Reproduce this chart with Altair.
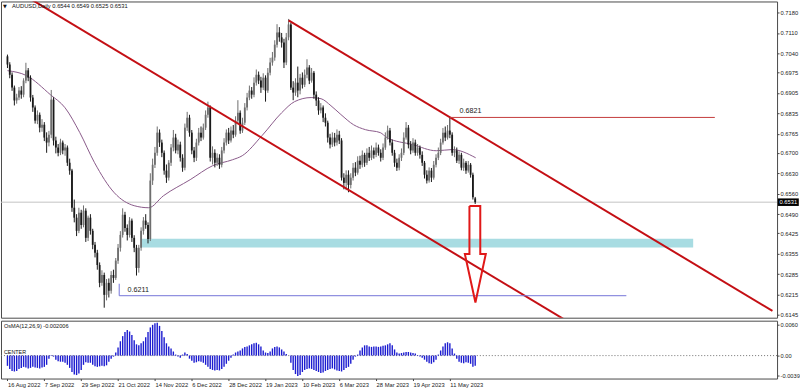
import altair as alt
import pandas as pd

# ---------------- texts ----------------
title_text = "AUDUSD,Daily  0.6544 0.6549 0.6525 0.6531"
osma_title = "OsMA(12,26,9) -0.002006"
center_text = "CENTER"
tri_text = "▼"

# ---------------- axes ----------------
date_labels = ["16 Aug 2022", "7 Sep 2022", "29 Sep 2022", "21 Oct 2022", "14 Nov 2022",
               "6 Dec 2022", "28 Dec 2022", "19 Jan 2023", "10 Feb 2023", "6 Mar 2023",
               "28 Mar 2023", "19 Apr 2023", "11 May 2023"]
date_ticks = [0, 16, 32, 48, 64, 80, 96, 112, 128, 144, 160, 176, 192]
price_ticks = [0.7180, 0.7110, 0.7040, 0.6975, 0.6905, 0.6835, 0.6765, 0.6700,
               0.6630, 0.6560, 0.6490, 0.6425, 0.6355, 0.6285, 0.6215, 0.6145]
osma_ticks = [0.00603, 0.0, -0.00390]
# the picture's right edge cuts the oscillator labels; these are the parts that show
osma_tick_text = ["0.0060", "0.00", "-0.0039"]

# ---------------- daily candles (bar index 0 = 16 Aug 2022) ----------------
closes = [
    .7002, .6967, .6923, .6879, .6889, .6913, .6899, .6947, .6982, .6957,
    .6889, .6855, .6810, .6830, .6786, .6796, .6752, .6735, .6762, .6882,
    .6742, .6718, .6700, .6735, .6708, .6718, .6666, .6639, .6512, .6478,
    .6433, .6495, .6453, .6502, .6409, .6478, .6433, .6385, .6358, .6316,
    .6255, .6282, .6214, .6255, .6228, .6282, .6272, .6331, .6375, .6419,
    .6488, .6443, .6419, .6468, .6409, .6375, .6306, .6375, .6433, .6468,
    .6453, .6405, .6605, .6659, .6700, .6769, .6735, .6700, .6639, .6615,
    .6666, .6718, .6752, .6708, .6728, .6683, .6649, .6786, .6820, .6769,
    .6708, .6683, .6735, .6769, .6752, .6786, .6830, .6855, .6683, .6700,
    .6666, .6683, .6659, .6708, .6735, .6769, .6742, .6776, .6762, .6810,
    .6837, .6776, .6803, .6855, .6889, .6913, .6899, .6940, .6967, .6947,
    .6923, .6957, .6913, .6974, .7009, .7026, .7070, .7112, .7095, .7077,
    .7009, .7095, .7139, .6923, .6906, .6940, .6913, .6957, .6933, .6967,
    .6992, .6947, .6974, .6899, .6879, .6845, .6855, .6820, .6803, .6752,
    .6728, .6752, .6735, .6762, .6742, .6615, .6597, .6625, .6590, .6615,
    .6649, .6632, .6673, .6659, .6693, .6666, .6700, .6683, .6708, .6693,
    .6718, .6700, .6683, .6718, .6752, .6776, .6735, .6700, .6666, .6649,
    .6683, .6700, .6752, .6786, .6728, .6708, .6735, .6700, .6718, .6693,
    .6666, .6625, .6605, .6639, .6615, .6659, .6683, .6700, .6735, .6769,
    .6752, .6776, .6762, .6700, .6708, .6673, .6693, .6649, .6666, .6639,
    .6659, .6625, .6548, .6531]
opens = [
    .7030, .7002, .6967, .6923, .6879, .6889, .6913, .6899, .6947, .6982,
    .6957, .6889, .6855, .6810, .6830, .6786, .6796, .6752, .6735, .6762,
    .6882, .6742, .6718, .6700, .6735, .6708, .6718, .6666, .6639, .6512,
    .6478, .6433, .6495, .6453, .6502, .6409, .6478, .6433, .6385, .6358,
    .6316, .6255, .6282, .6214, .6255, .6228, .6282, .6272, .6331, .6375,
    .6419, .6488, .6443, .6419, .6468, .6409, .6375, .6306, .6375, .6433,
    .6468, .6453, .6405, .6605, .6659, .6700, .6769, .6735, .6700, .6639,
    .6615, .6666, .6718, .6752, .6708, .6728, .6683, .6649, .6786, .6820,
    .6769, .6708, .6683, .6735, .6769, .6752, .6786, .6830, .6855, .6683,
    .6700, .6666, .6683, .6659, .6708, .6735, .6769, .6742, .6776, .6762,
    .6810, .6837, .6776, .6803, .6855, .6889, .6913, .6899, .6940, .6967,
    .6947, .6923, .6957, .6913, .6974, .7009, .7026, .7070, .7112, .7095,
    .7077, .7009, .7095, .7139, .6923, .6906, .6940, .6913, .6957, .6933,
    .6967, .6992, .6947, .6974, .6899, .6879, .6845, .6855, .6820, .6803,
    .6752, .6728, .6752, .6735, .6762, .6742, .6615, .6597, .6625, .6590,
    .6615, .6649, .6632, .6673, .6659, .6693, .6666, .6700, .6683, .6708,
    .6693, .6718, .6700, .6683, .6718, .6752, .6776, .6735, .6700, .6666,
    .6649, .6683, .6700, .6752, .6786, .6728, .6708, .6735, .6700, .6718,
    .6693, .6666, .6625, .6605, .6639, .6615, .6659, .6683, .6700, .6735,
    .6769, .6752, .6776, .6762, .6700, .6708, .6673, .6693, .6649, .6666,
    .6639, .6659, .6625, .6544]
highs = [
    .7036, .7010, .6975, .6930, .6902, .6925, .6928, .6955, .7008, .6990,
    .6965, .6898, .6862, .6845, .6838, .6815, .6805, .6770, .6775, .6915,
    .6890, .6755, .6730, .6748, .6742, .6730, .6725, .6680, .6645, .6540,
    .6490, .6512, .6505, .6520, .6510, .6485, .6490, .6440, .6395, .6368,
    .6325, .6298, .6290, .6268, .6270, .6295, .6300, .6340, .6388, .6432,
    .6510, .6498, .6455, .6480, .6475, .6418, .6385, .6385, .6445, .6480,
    .6490, .6462, .6630, .6680, .6720, .6790, .6780, .6745, .6708, .6660,
    .6675, .6730, .6778, .6765, .6745, .6738, .6695, .6800, .6840, .6830,
    .6778, .6720, .6748, .6785, .6790, .6800, .6845, .6875, .6862, .6722,
    .6712, .6698, .6695, .6720, .6750, .6780, .6785, .6790, .6795, .6825,
    .6880, .6845, .6820, .6870, .6905, .6930, .6925, .6958, .6985, .6978,
    .6960, .6972, .6965, .6990, .7025, .7045, .7085, .7140, .7130, .7110,
    .7090, .7110, .7158, .7145, .6945, .6955, .6995, .6970, .6975, .6985,
    .7020, .7000, .6990, .6980, .6910, .6890, .6870, .6862, .6835, .6810,
    .6765, .6770, .6768, .6780, .6775, .6750, .6630, .6640, .6640, .6630,
    .6665, .6668, .6688, .6690, .6708, .6700, .6715, .6720, .6725, .6718,
    .6735, .6728, .6712, .6732, .6770, .6793, .6785, .6745, .6710, .6680,
    .6695, .6715, .6770, .6805, .6795, .6740, .6750, .6745, .6730, .6725,
    .6705, .6672, .6640, .6650, .6648, .6672, .6695, .6718, .6748, .6785,
    .6790, .6795, .6821, .6770, .6722, .6718, .6705, .6700, .6680, .6672,
    .6672, .6665, .6632, .6549]
lows = [
    .6990, .6955, .6912, .6862, .6868, .6880, .6885, .6890, .6938, .6945,
    .6875, .6840, .6800, .6798, .6770, .6772, .6740, .6700, .6722, .6750,
    .6725, .6698, .6688, .6692, .6695, .6690, .6655, .6625, .6498, .6462,
    .6415, .6425, .6440, .6445, .6395, .6398, .6420, .6370, .6342, .6300,
    .6240, .6245, .6170, .6195, .6205, .6218, .6255, .6265, .6320, .6362,
    .6410, .6430, .6400, .6410, .6395, .6360, .6280, .6290, .6365, .6420,
    .6440, .6390, .6398, .6590, .6648, .6690, .6720, .6685, .6625, .6597,
    .6605, .6655, .6705, .6698, .6695, .6670, .6635, .6640, .6775, .6755,
    .6695, .6668, .6672, .6725, .6740, .6745, .6778, .6820, .6670, .6660,
    .6650, .6655, .6645, .6650, .6698, .6725, .6730, .6735, .6750, .6755,
    .6800, .6765, .6768, .6795, .6845, .6880, .6885, .6890, .6930, .6935,
    .6905, .6915, .6875, .6905, .6965, .6998, .7015, .7060, .7080, .7060,
    .6990, .7000, .7085, .6915, .6880, .6895, .6890, .6900, .6920, .6925,
    .6955, .6935, .6940, .6885, .6860, .6830, .6835, .6805, .6790, .6735,
    .6715, .6720, .6722, .6725, .6730, .6605, .6575, .6572, .6565, .6578,
    .6605, .6620, .6625, .6645, .6650, .6652, .6658, .6672, .6675, .6680,
    .6685, .6690, .6670, .6675, .6710, .6745, .6725, .6690, .6652, .6638,
    .6640, .6672, .6692, .6745, .6715, .6695, .6700, .6690, .6690, .6680,
    .6655, .6612, .6595, .6598, .6600, .6608, .6650, .6675, .6692, .6728,
    .6740, .6745, .6750, .6690, .6685, .6665, .6662, .6640, .6638, .6628,
    .6632, .6615, .6540, .6525]

# ---------------- moving average ----------------
ma_idx = [0, 8.3, 18.6, 25, 31.4, 37.8, 46.4, 55, 61.3, 67.7, 79.3, 89.1, 97.6, 101.9,
          110.5, 119, 124.6, 131.8, 136.1, 140.4, 144.7, 150.2, 155.4, 161.8, 164.7,
          175.9, 186.1, 193, 203.2]
ma_val = [.6981, .6964, .6899, .6854, .6769, .6666, .6563, .6519, .6512, .6553, .6608,
          .6656, .6676, .6690, .6759, .6837, .6875, .6889, .6885, .6861, .6831, .6796,
          .6779, .6769, .6752, .6728, .6707, .6711, .6683]

# ---------------- OsMA histogram ----------------
osma = [
    -.0020, -.0026, -.0030, -.0031, -.0030, -.0026, -.0024, -.0022, -.0023, -.0025,
    -.0024, -.0022, -.0023, -.0024, -.0025, -.0023, -.0022, -.0018, -.0006, -.0001,
    -.0002, -.0008, -.0011, -.0012, -.0012, -.0014, -.0018, -.0024, -.0032, -.0037,
    -.0038, -.0035, -.0028, -.0018, -.0013, -.0014, -.0014, -.0018, -.0021, -.0022,
    -.0021, -.0020, -.0021, -.0019, -.0012, -.0006, -.0002, .0006, .0016, .0028,
    .0038, .0046, .0050, .0047, .0040, .0030, .0022, .0020, .0024, .0028,
    .0036, .0046, .0055, .0060, .0063, .0064, .0058, .0048, .0036, .0024,
    .0018, .0014, .0008, .0002, -.0002, -.0004, .0002, .0006, .0003, -.0006,
    -.0010, -.0014, -.0013, -.0011, -.0012, -.0014, -.0018, -.0022, -.0026, -.0028,
    -.0029, -.0028, -.0029, -.0026, -.0022, -.0016, -.0010, -.0004, .0002, .0006,
    .0008, .0010, .0014, .0017, .0018, .0020, .0022, .0024, .0025, .0022,
    .0018, .0010, .0006, .0005, .0008, .0014, .0017, .0018, .0016, .0012,
    .0008, .0003, .0000, -.0014, -.0028, -.0036, -.0040, -.0038, -.0032, -.0028,
    -.0026, -.0025, -.0026, -.0028, -.0030, -.0032, -.0034, -.0033, -.0030, -.0028,
    -.0026, -.0025, -.0027, -.0029, -.0030, -.0031, -.0028, -.0024, -.0022, -.0016,
    -.0008, -.0002, .0002, .0010, .0016, .0020, .0020, .0018, .0017, .0018,
    .0018, .0017, .0018, .0019, .0020, .0022, .0024, .0020, .0012, .0006,
    .0004, .0005, .0006, .0007, .0007, .0006, .0005, .0004, .0001, -.0002,
    -.0004, -.0008, -.0012, -.0015, -.0016, -.0013, -.0008, .0002, .0010, .0018,
    .0024, .0026, .0024, .0014, .0004, -.0006, -.0012, -.0014, -.0015, -.0013,
    -.0014, -.0016, -.0022, -.0020]

# ---------------- drawn objects (data-space anchors) ----------------
chan_name = ["upper", "upper", "lower", "lower"]
chan_i = [122, 332, 5, 245]
chan_p = [0.7153, 0.6159, 0.7250, 0.6114]

lvl_high_i = [192, 307]
lvl_high_p = 0.6821
lvl_low_i = [48.5, 268.6]
lvl_low_p = 0.6211
lvl_low_tick = [0.6211, 0.6252]

zone_i = [58.4, 297.6]
zone_p = [0.6406, 0.6376]

arrow_i = [200.5, 205.2, 205.2, 207.6, 203.1, 198.5, 200.5, 200.5]
arrow_p = [0.6518, 0.6518, 0.6354, 0.6354, 0.6188, 0.6354, 0.6354, 0.6518]

label_i = [196.2, 52.1]
label_p = [0.6842, 0.6231]
label_t = ["0.6821", "0.6211"]

last_price = 0.6531

# ---------------- frames ----------------
n = len(closes)
candles = pd.DataFrame({"i": list(range(n)), "o": opens, "h": highs, "l": lows, "c": closes})
ma_df = pd.DataFrame({"i": ma_idx, "v": ma_val})
osma_df = pd.DataFrame({"i": list(range(n)), "v": osma})
chan_df = pd.DataFrame({"name": chan_name, "i": chan_i, "p": chan_p})
arrow_df = pd.DataFrame({"k": list(range(len(arrow_i))), "i": arrow_i, "p": arrow_p})
lbl_df = pd.DataFrame({"i": label_i, "p": label_p, "t": label_t})

FONT = "Liberation Sans"
W = 778
H_MAIN = 317
H_OSC = 58

x_scale = alt.Scale(domain=[-0.64, 331.84], nice=False, zero=False)
y_scale = alt.Scale(domain=[0.61358, 0.72177], nice=False, zero=False)
o_scale = alt.Scale(domain=[-0.004478, 0.006815], nice=False, zero=False)

y_axis = alt.Axis(orient="right", values=price_ticks, format=".4f", title=None, grid=False,
                  domain=False, tickSize=2, tickColor="#444", labelPadding=1,
                  labelFontSize=5.8, labelColor="#222", labelFont=FONT)
XN = dict(scale=x_scale, axis=None)


def Yp(field):
    return alt.Y(field, type="quantitative", scale=y_scale, axis=y_axis)


base = alt.Chart(candles)

price_line = alt.Chart(pd.DataFrame({"p": [last_price]})).mark_rule(
    color="#c4c4c4", strokeWidth=1).encode(y=Yp("p"))

zone = alt.Chart(pd.DataFrame({"i1": [zone_i[0]], "i2": [zone_i[1]],
                               "p1": [zone_p[0]], "p2": [zone_p[1]]})).mark_rect(
    color="#a8dce2").encode(x=alt.X("i1:Q", **XN), x2="i2:Q", y=Yp("p1"), y2="p2:Q")

ma = alt.Chart(ma_df).mark_line(color="#8a5a8a", strokeWidth=1, interpolate="monotone").encode(
    x=alt.X("i:Q", **XN), y=Yp("v"))

wicks = base.mark_rule(strokeWidth=1).encode(
    x=alt.X("i:Q", **XN), y=Yp("l"), y2="h:Q",
    color=alt.Color("dir:N", scale=alt.Scale(domain=["up", "down"], range=["#6e6e6e", "#1a1a1a"]),
                    legend=None)).transform_calculate(dir="datum.c >= datum.o ? 'up' : 'down'")

bodies = base.mark_bar(width=1.8).encode(
    x=alt.X("i:Q", **XN), y=Yp("o"), y2="c:Q",
    color=alt.Color("dir:N", scale=alt.Scale(domain=["up", "down"], range=["#9a9a9a", "#141414"]),
                    legend=None)).transform_calculate(dir="datum.c >= datum.o ? 'up' : 'down'")

channels = alt.Chart(chan_df).mark_line(color="#c40f14", strokeWidth=2, clip=True).encode(
    x=alt.X("i:Q", **XN), y=Yp("p"), detail="name:N")

lvl_high = alt.Chart(pd.DataFrame({"i1": [lvl_high_i[0]], "i2": [lvl_high_i[1]], "p": [lvl_high_p]})).mark_rule(
    stroke="#c43c3c", strokeWidth=1).encode(x=alt.X("i1:Q", **XN), x2="i2:Q", y=Yp("p"))

lvl_low = alt.Chart(pd.DataFrame({"i1": [lvl_low_i[0]], "i2": [lvl_low_i[1]], "p": [lvl_low_p]})).mark_rule(
    stroke="#7474d8", strokeWidth=1).encode(x=alt.X("i1:Q", **XN), x2="i2:Q", y=Yp("p"))

lvl_low_v = alt.Chart(pd.DataFrame({"i": [lvl_low_i[0]], "p1": [lvl_low_tick[0]], "p2": [lvl_low_tick[1]]})).mark_rule(
    stroke="#7474d8", strokeWidth=1).encode(x=alt.X("i:Q", **XN), y=Yp("p1"), y2="p2:Q")

labels = alt.Chart(lbl_df).mark_text(align="left", baseline="middle", fontSize=7.2,
                                     color="#222", font=FONT).encode(
    x=alt.X("i:Q", **XN), y=Yp("p"), text="t:N")

arrow = alt.Chart(arrow_df).mark_line(color="#e01818", strokeWidth=2).encode(
    x=alt.X("i:Q", **XN), y=Yp("p"), order="k:Q")

head_tri = alt.Chart(pd.DataFrame({"t": [tri_text]})).mark_text(
    align="left", baseline="middle", fontSize=5, font="DejaVu Sans", color="#111").encode(
    x=alt.value(2), y=alt.value(5), text="t:N")
head_txt = alt.Chart(pd.DataFrame({"t": [title_text]})).mark_text(
    align="left", baseline="middle", fontSize=5.8, font=FONT, color="#111").encode(
    x=alt.value(11), y=alt.value(5), text="t:N")

box_shape = "M-1,-0.36L1,-0.36L1,0.36L-1,0.36Z"
last_df = pd.DataFrame({"p": [last_price], "t": [f"{last_price:.4f}"]})
last_box = alt.Chart(last_df).mark_point(shape=box_shape, size=441, filled=True, opacity=1,
                                         color="#000").encode(x=alt.value(789.3), y=Yp("p"))
last_txt = alt.Chart(last_df).mark_text(align="center", baseline="middle", fontSize=5.8,
                                        font=FONT, color="#fff").encode(
    x=alt.value(789.3), y=Yp("p"), text="t:N")

main = alt.layer(price_line, zone, ma, wicks, bodies, channels, lvl_high, lvl_low, lvl_low_v,
                 labels, arrow, head_tri, head_txt, last_box, last_txt).properties(
    width=W, height=H_MAIN)

# ---------------- OsMA panel ----------------
label_js = "[" + ",".join("'" + s + "'" for s in date_labels) + "]"
osma_js = "[" + ",".join("'" + s + "'" for s in osma_tick_text) + "]"
x_axis = alt.Axis(values=date_ticks, labelExpr=f"{label_js}[round(datum.value/16)]", title=None,
                  grid=False, domain=False, tickSize=2, tickColor="#444", labelAlign="left",
                  labelPadding=1, labelFontSize=5.8, labelColor="#222", labelFont=FONT)
o_axis = alt.Axis(orient="right", values=osma_ticks,
                  labelExpr=f"{osma_js}[datum.value > 0.001 ? 0 : (datum.value < -0.001 ? 2 : 1)]",
                  title=None, grid=False, domain=False, tickSize=2, tickColor="#444",
                  labelPadding=1, labelFontSize=5.7, labelColor="#222", labelFont=FONT)
XO = dict(scale=x_scale, axis=x_axis)


def Yo(field):
    return alt.Y(field, type="quantitative", scale=o_scale, axis=o_axis)


zero_line = alt.Chart(pd.DataFrame({"v": [0.0]})).mark_rule(
    color="#707070", strokeWidth=1, strokeDash=[1, 2]).encode(y=Yo("v"))
hist = alt.Chart(osma_df).mark_bar(width=1.4, color="#1c1cd0").encode(
    x=alt.X("i:Q", **XO), y=Yo("v"), y2=alt.datum(0))
o_title = alt.Chart(pd.DataFrame({"t": [osma_title]})).mark_text(
    align="left", baseline="middle", fontSize=5.6, font=FONT, color="#111").encode(
    x=alt.value(3), y=alt.value(5), text="t:N")
o_center = alt.Chart(pd.DataFrame({"t": [center_text]})).mark_text(
    align="left", baseline="middle", fontSize=5.4, font=FONT, color="#111").encode(
    x=alt.value(3), y=alt.value(31), text="t:N")

osc = alt.layer(zero_line, hist, o_title, o_center).properties(width=W, height=H_OSC)

chart = alt.vconcat(main, osc, spacing=1).properties(
    padding=0,
    background="#ffffff",
).configure(font=FONT).configure_view(stroke="#4a4a4a", strokeWidth=1)

chart.save("out.html", embed_options={"renderer": "svg", "actions": False})
